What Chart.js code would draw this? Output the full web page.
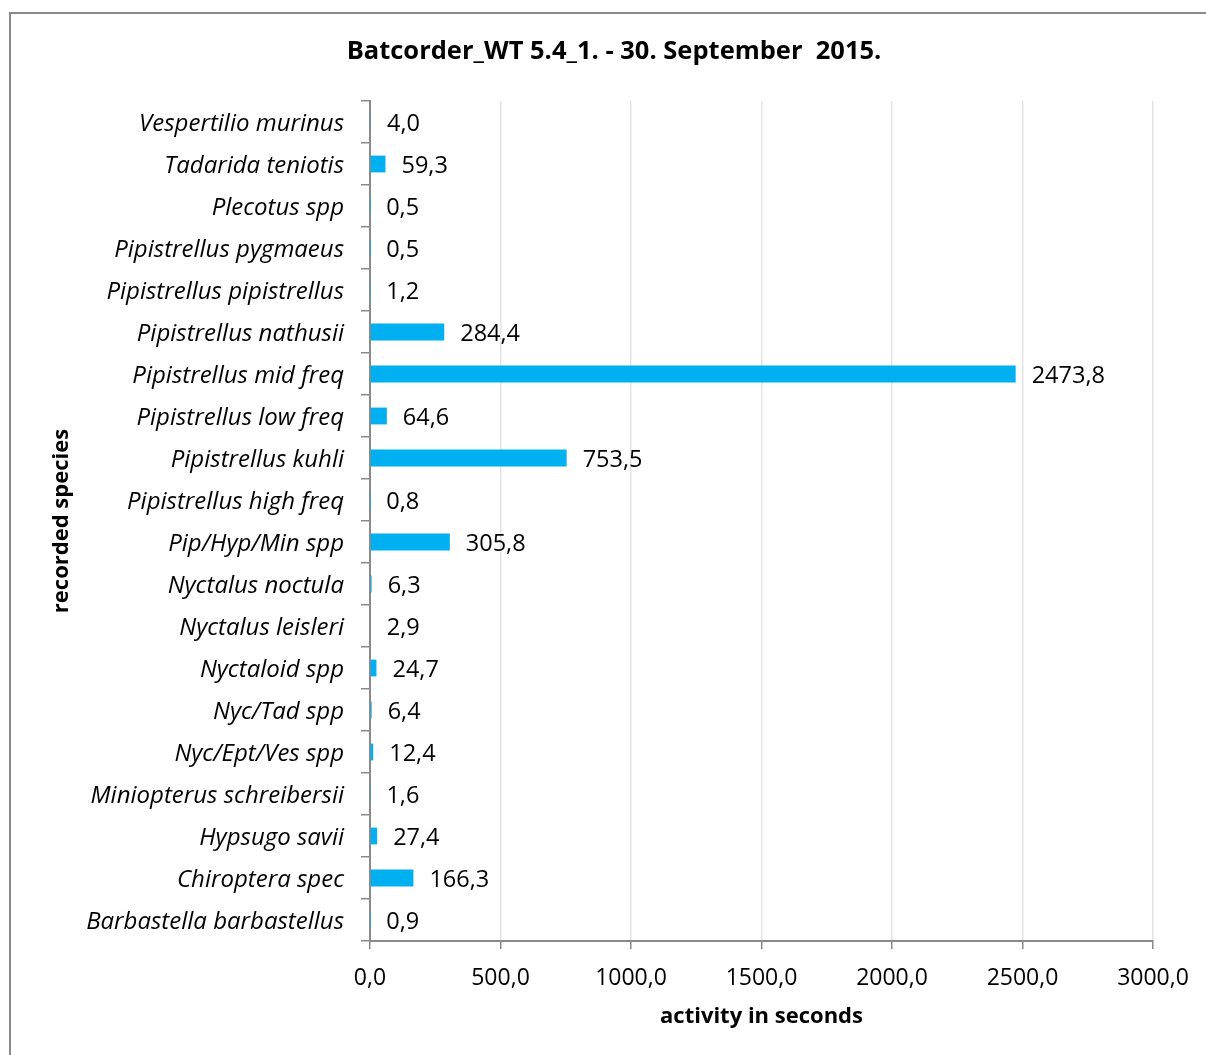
<!DOCTYPE html>
<html>
<head>
<meta charset="utf-8">
<script src="https://cdn.jsdelivr.net/npm/chart.js@4/dist/chart.umd.min.js"></script>
<style>
html,body{margin:0;padding:0;background:#fff;}
canvas{display:block;}
</style>
</head>
<body>
<canvas id="c" width="1206" height="1055"></canvas>
<script>
const chartTitle = 'Batcorder_WT 5.4_1. - 30. September  2015.';
const xAxisTitle = 'activity in seconds';
const yAxisTitle = 'recorded species';
const species = [
  'Vespertilio murinus','Tadarida teniotis','Plecotus spp','Pipistrellus pygmaeus',
  'Pipistrellus pipistrellus','Pipistrellus nathusii','Pipistrellus mid freq','Pipistrellus low freq',
  'Pipistrellus kuhli','Pipistrellus high freq','Pip/Hyp/Min spp','Nyctalus noctula',
  'Nyctalus leisleri','Nyctaloid spp','Nyc/Tad spp','Nyc/Ept/Ves spp',
  'Miniopterus schreibersii','Hypsugo savii','Chiroptera spec','Barbastella barbastellus'
];
const activity = [4.0,59.3,0.5,0.5,1.2,284.4,2473.8,64.6,753.5,0.8,305.8,6.3,2.9,24.7,6.4,12.4,1.6,27.4,166.3,0.9];
const xTickMin = 0, xTickMax = 3000, xTickStep = 500;

const FONT = 'Open Sans';
const fmt = v => v.toFixed(1).replace('.', ',');

const frame = {
  id: 'frame',
  beforeDraw(chart) {
    const ctx = chart.ctx;
    ctx.save();
    ctx.fillStyle = '#fff';
    ctx.fillRect(0, 0, chart.width, chart.height);
    ctx.strokeStyle = '#8a8a8a';
    ctx.lineWidth = 2;
    ctx.beginPath();
    ctx.moveTo(10, chart.height + 5);
    ctx.lineTo(10, 13);
    ctx.lineTo(chart.width + 5, 13);
    ctx.stroke();
    ctx.restore();
  }
};

const valueLabels = {
  id: 'valueLabels',
  afterDatasetsDraw(chart) {
    const ctx = chart.ctx;
    const meta = chart.getDatasetMeta(0);
    const data = chart.data.datasets[0].data;
    ctx.save();
    ctx.font = '23.5px "' + FONT + '"';
    ctx.fillStyle = '#000';
    ctx.textAlign = 'left';
    ctx.textBaseline = 'middle';
    meta.data.forEach((bar, i) => {
      ctx.fillText(fmt(data[i]), bar.x + 16, bar.y + 2);
    });
    ctx.restore();
  }
};

new Chart(document.getElementById('c'), {
  type: 'bar',
  data: {
    labels: species,
    datasets: [{
      data: activity,
      backgroundColor: '#00B0F0',
      borderWidth: 0,
      barPercentage: 0.4,
      categoryPercentage: 1.0
    }]
  },
  options: {
    indexAxis: 'y',
    responsive: false,
    animation: false,
    layout: { padding: { left: 22, right: 0, top: 0, bottom: 0 } },
    plugins: {
      legend: { display: false },
      tooltip: { enabled: false },
      title: {
        display: true,
        text: chartTitle,
        color: '#000',
        font: { family: FONT, size: 25.5, weight: 'bold' },
        padding: { top: 36.7, bottom: 33.7 }
      }
    },
    scales: {
      x: {
        type: 'linear',
        min: xTickMin,
        max: xTickMax,
        afterFit(scale) { scale.height = 114; },
        ticks: {
          stepSize: xTickStep,
          color: '#000',
          font: { family: FONT, size: 23 },
          padding: 16,
          maxRotation: 0,
          callback: v => fmt(v)
        },
        grid: { color: '#e4e4e4', tickColor: '#8a8a8a', tickLength: 8, lineWidth: 1.5 },
        border: { color: '#8a8a8a', width: 2 },
        title: {
          display: true,
          text: xAxisTitle,
          color: '#000',
          font: { family: FONT, size: 22, weight: 'bold' },
          padding: { top: 0, bottom: 25 }
        }
      },
      y: {
        afterFit(scale) { scale.width = 348; },
        ticks: {
          color: '#000',
          font: { family: FONT, size: 24, style: 'italic' },
          padding: 17,
          labelOffset: 2,
          autoSkip: false
        },
        grid: { drawOnChartArea: false, drawTicks: true, tickLength: 9, color: '#8a8a8a', lineWidth: 1.5 },
        border: { color: '#8a8a8a', width: 2 },
        title: {
          display: true,
          text: yAxisTitle,
          color: '#000',
          font: { family: FONT, size: 22, weight: 'bold' },
          padding: { top: 26.8, bottom: 0 }
        }
      },
      yRightSpace: {
        type: 'category',
        position: 'right',
        display: true,
        afterFit(scale) { scale.width = 53; },
        ticks: { display: false },
        grid: { display: false, drawOnChartArea: false },
        border: { display: false }
      }
    }
  },
  plugins: [frame, valueLabels]
});
</script>
</body>
</html>
